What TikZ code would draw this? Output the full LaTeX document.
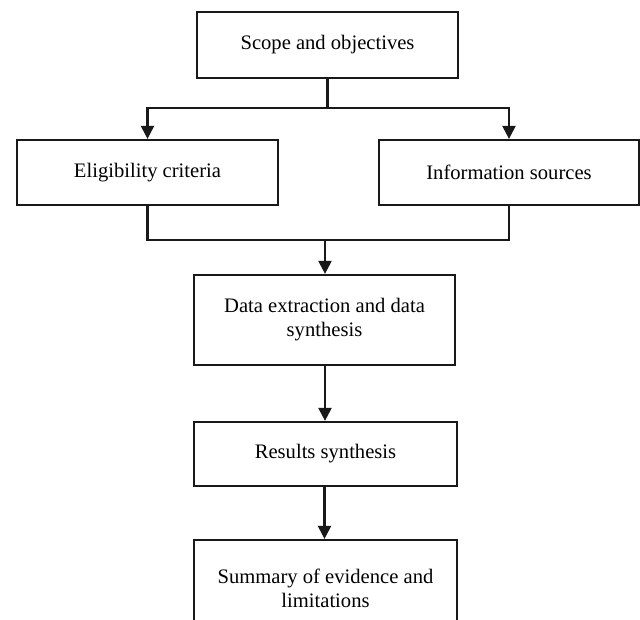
\documentclass[tikz,border=0pt]{standalone}
\usepackage{fontspec}
\setmainfont{Liberation Serif}
\usetikzlibrary{arrows.meta}
\begin{document}
\begin{tikzpicture}[x=1pt,y=-1pt,
  box/.style={draw=black!90, line width=2.2pt, align=center, inner sep=0pt,
    font=\fontsize{20.6}{24}\selectfont, text=black},
  conn/.style={draw=black!90, line width=2.2pt},
  arr/.style={conn, -{Triangle[width=13pt,length=13pt]}}]
\useasboundingbox (0,0) rectangle (640,620);
\clip (0,0) rectangle (640,620);
\node[box, minimum width=261pt, minimum height=66pt] (scope) at (327.5,45) {Scope and objectives};
\node[box, minimum width=261pt, minimum height=65pt] (elig) at (147.5,172.5) {Eligibility criteria};
\node[box, minimum width=260pt, minimum height=65pt] (info) at (509,172.5) {Information sources};
\node[box, minimum width=261pt, minimum height=90pt] (data) at (324.5,320) {Data extraction and data\\synthesis};
\node[box, minimum width=263pt, minimum height=64pt] (res) at (325.5,454) {Results synthesis};
\node[box, minimum width=263pt, minimum height=96pt] (sum) at (325.5,588) {Summary of evidence and\\limitations};
\coordinate (split) at (scope.south |- 0,108);
\coordinate (join) at (325,240);
\draw[conn] (scope.south) -- (split);
\draw[arr] (split) -| (elig.north);
\draw[arr] (split) -| (info.north);
\draw[conn] (elig.south) |- (join);
\draw[conn] (info.south) |- (join);
\draw[arr] (join) -- (join |- data.north);
\draw[arr] (data.south -| 325,0) -- (325,0 |- res.north);
\draw[arr] (res.south -| 324.5,0) -- (324.5,0 |- sum.north);
\end{tikzpicture}
\end{document}
